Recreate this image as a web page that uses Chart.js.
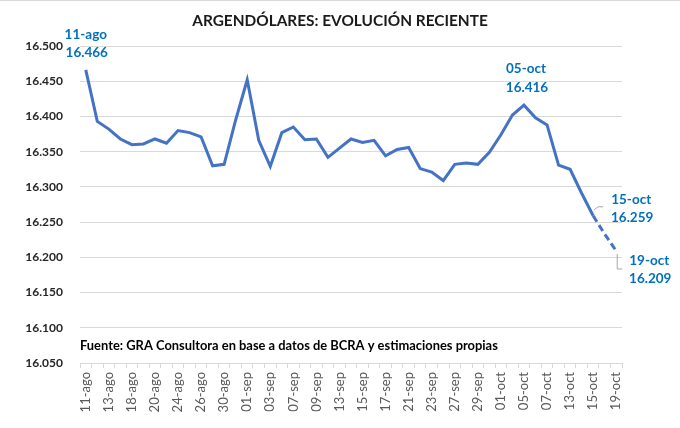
<!DOCTYPE html>
<html>
<head>
<meta charset="utf-8">
<script src="https://cdn.jsdelivr.net/npm/chart.js@4/dist/chart.umd.min.js"></script>
<style>
  html, body { margin: 0; padding: 0; background: #fff; }
  #wrap { width: 680px; height: 428px; position: relative; }
</style>
</head>
<body>
<div id="wrap"><canvas id="c" width="680" height="428"></canvas></div>
<script>
// ---- data ----
const categories = ["11-ago","12-ago","13-ago","17-ago","18-ago","19-ago","20-ago","23-ago","24-ago","25-ago","26-ago","27-ago","30-ago","31-ago","01-sep","02-sep","03-sep","06-sep","07-sep","08-sep","09-sep","10-sep","13-sep","14-sep","15-sep","16-sep","17-sep","20-sep","21-sep","22-sep","23-sep","24-sep","27-sep","28-sep","29-sep","30-sep","01-oct","04-oct","05-oct","06-oct","07-oct","12-oct","13-oct","14-oct","15-oct","18-oct","19-oct"];
const values = [16.466,16.393,16.382,16.368,16.360,16.361,16.368,16.362,16.380,16.377,16.371,16.330,16.332,16.395,16.452,16.366,16.329,16.377,16.385,16.367,16.368,16.342,16.355,16.368,16.363,16.366,16.344,16.353,16.356,16.326,16.321,16.309,16.332,16.334,16.332,16.349,16.374,16.402,16.416,16.398,16.388,16.331,16.325,16.291,16.259,16.233,16.209];
const estimateFrom = 44; // index from which the series is an estimate (dashed)
const annotatedIdx = [0, 38, 44, 46];
const yMin = 16.05, yMax = 16.5, yStep = 0.05;
const titleText = "ARGENDÓLARES: EVOLUCIÓN RECIENTE";
const sourceText = "Fuente: GRA Consultora en base a datos de BCRA y estimaciones propias";

const fmt = v => v.toFixed(3);

// annotation placement (offsets relative to the point)
const annotLayout = {
  0:  { dx: 0,  dy1: -35, dy2: -17, leader: null },
  38: { dx: 2,  dy1: -37, dy2: -18, leader: null },
  44: { dx: 38, dy1: -16, dy2: 2,   leader: [[1,-6],[5,-9],[10,-9]] },
  46: { dx: 33, dy1: 10,  dy2: 28,  leader: [[1,3],[1,18],[6,18]] }
};

const annotPlugin = {
  id: 'annot',
  afterDatasetsDraw(chart) {
    const ctx = chart.ctx;
    const meta = chart.getDatasetMeta(0);
    ctx.save();
    annotatedIdx.forEach(i => {
      const p = meta.data[i];
      const L = annotLayout[i];
      if (L.leader) {
        ctx.strokeStyle = '#a6a6a6';
        ctx.lineWidth = 1;
        ctx.beginPath();
        L.leader.forEach((q, k) => {
          const x = p.x + q[0], y = p.y + q[1];
          if (k === 0) ctx.moveTo(x, y); else ctx.lineTo(x, y);
        });
        ctx.stroke();
      }
      ctx.fillStyle = '#0070C0';
      ctx.font = 'bold 13.5px Lato';
      ctx.textAlign = 'center';
      ctx.textBaseline = 'middle';
      ctx.fillText(categories[i], p.x + L.dx, p.y + L.dy1);
      ctx.fillText(fmt(values[i]), p.x + L.dx + 1, p.y + L.dy2);
    });
    // source note
    const area = chart.chartArea;
    ctx.fillStyle = '#000000';
    ctx.font = 'bold 12.9px Lato';
    ctx.textAlign = 'left';
    ctx.textBaseline = 'middle';
    ctx.fillText(sourceText, area.left, chart.scales.y.getPixelForValue(16.075));
    // title
    ctx.fillStyle = '#1a1a1a';
    ctx.font = 'bold 15.4px Lato';
    ctx.textAlign = 'center';
    ctx.fillText(titleText, 340, 21);
    // top border
    ctx.strokeStyle = '#d9d9d9';
    ctx.lineWidth = 1;
    ctx.beginPath(); ctx.moveTo(0, 0.5); ctx.lineTo(680, 0.5); ctx.stroke();
    ctx.restore();
  }
};

new Chart(document.getElementById('c'), {
  type: 'line',
  data: {
    labels: categories,
    datasets: [{
      data: values,
      borderColor: '#4472C4',
      borderWidth: 3,
      pointRadius: 0,
      tension: 0,
      fill: false,
      segment: {
        borderDash: ctx => ctx.p0DataIndex >= estimateFrom ? [7, 4] : undefined
      }
    }]
  },
  options: {
    responsive: false,
    animation: false,
    layout: { padding: { left: 0, right: 58, top: 46, bottom: 0 } },
    plugins: {
      legend: { display: false },
      tooltip: { enabled: false },
      title: { display: false }
    },
    scales: {
      x: {
        type: 'category',
        offset: true,
        afterFit: s => { s.height = 65; },
        grid: { display: true, drawOnChartArea: false, drawTicks: true, tickLength: 5, offset: true, color: '#d9d9d9' },
        border: { display: true, color: '#d9d9d9' },
        ticks: {
          autoSkip: false,
          minRotation: 90,
          maxRotation: 90,
          padding: 4,
          color: '#595959',
          font: { family: 'Lato', size: 13 },
          callback: function(v, i) { return i % 2 === 0 ? categories[i] : ''; }
        }
      },
      y: {
        min: yMin,
        max: yMax,
        afterFit: s => { s.width = 80; },
        grid: { color: '#d9d9d9', drawTicks: false },
        border: { display: false },
        ticks: {
          stepSize: yStep,
          padding: 17,
          color: '#262626',
          font: { family: 'Lato', size: 12, weight: 'bold' },
          callback: v => fmt(v)
        }
      }
    }
  },
  plugins: [annotPlugin]
});
</script>
</body>
</html>
